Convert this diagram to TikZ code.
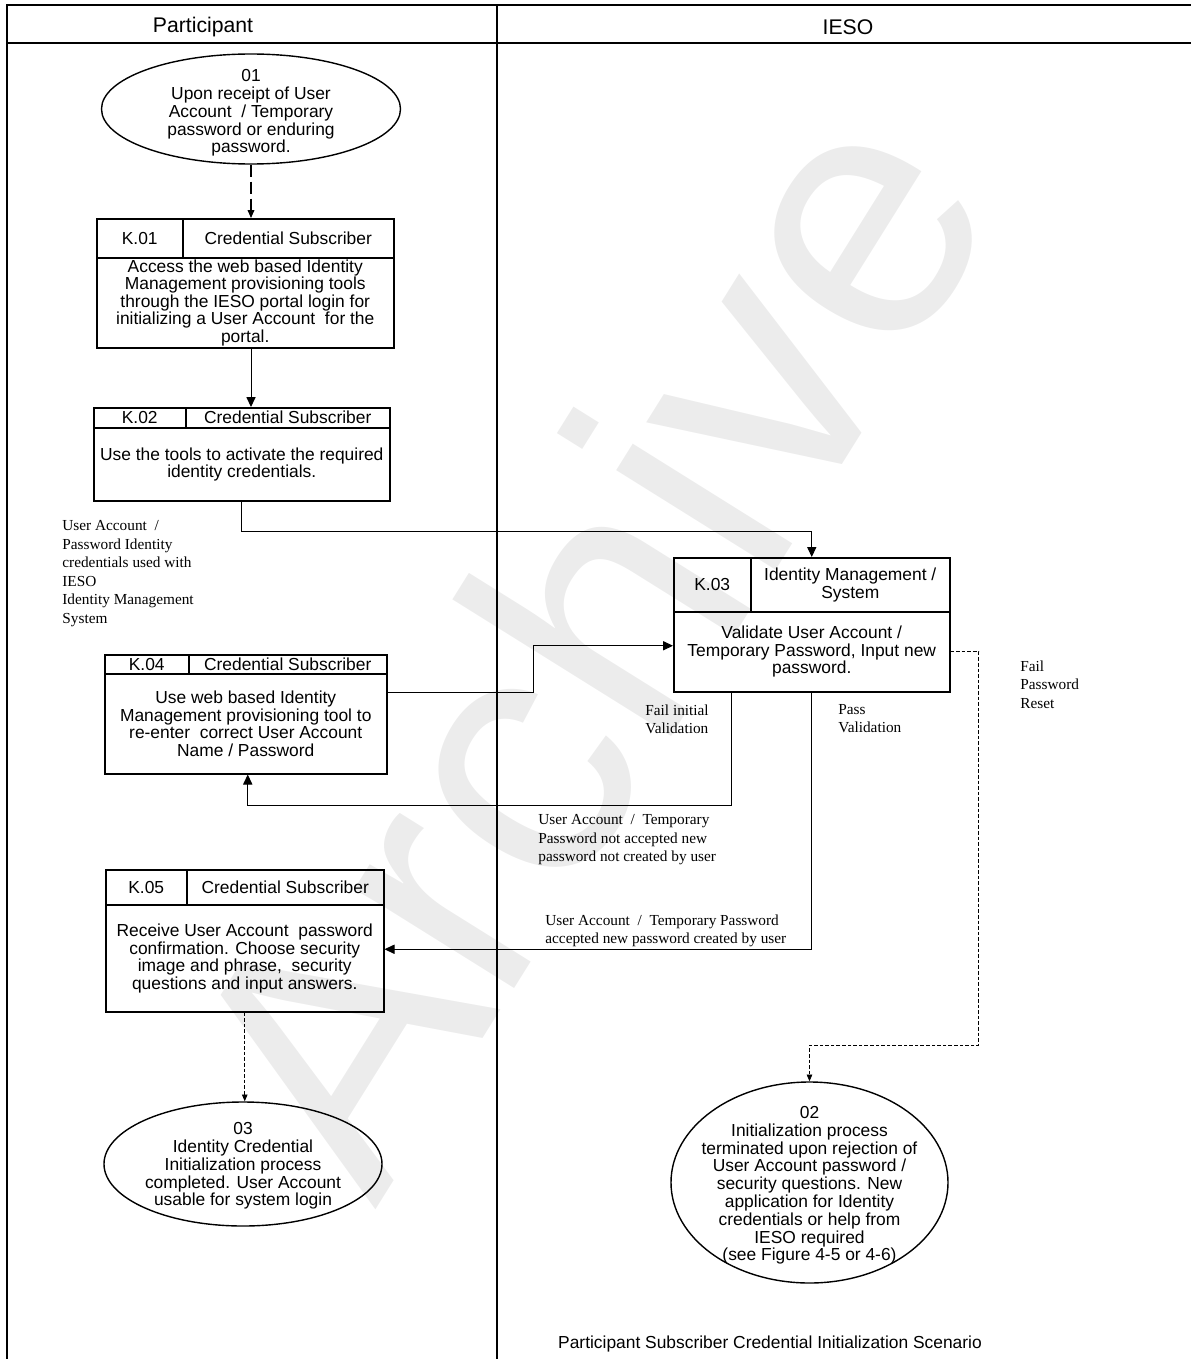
\documentclass[tikz,border=0pt]{standalone}
\usepackage{fontspec}
\setmainfont{Liberation Serif}
\setsansfont{Liberation Sans}
\usetikzlibrary{arrows.meta}
\usetikzlibrary{calc}
\usetikzlibrary{shapes.geometric}
\definecolor{wmgray}{rgb}{0.925, 0.925, 0.925}

\tikzset{
  lane/.style={line width=1.3pt},
  lanetitle/.style={font=\sffamily\fontsize{10.6}{12}\selectfont, inner sep=0pt},
  cell/.style={draw, line width=0.75pt, inner sep=0pt, align=center, anchor=north west,
    font=\sffamily\fontsize{8.7}{8.75}\selectfont},
  cellsize/.style 2 args={minimum width=#1, minimum height=#2},
  startstop/.style={draw, ellipse, line width=0.7pt, inner sep=0pt},
  sttext/.style={align=center, inner sep=0pt, font=\sffamily\fontsize{8.7}{8.9}\selectfont},
  note/.style={anchor=north west, align=left, inner sep=0pt,
    font=\rmfamily\fontsize{7.65}{9.25}\selectfont},
  flow/.style={line width=0.5pt, -{Triangle[length=5pt,width=4.6pt]}},
  dashflow/.style={line width=0.6pt, dash pattern=on 6pt off 2.5pt,
    -{Triangle[length=4pt,width=3.4pt]}},
  finedash/.style={line width=0.4pt, dash pattern=on 1.8pt off 1pt,
    -{Triangle[length=3.4pt,width=2.8pt]}},
  watermark/.style={text=wmgray, inner sep=0pt, font=\sffamily\fontsize{178}{178}\selectfont}
}

\begin{document}
\begin{tikzpicture}[x=0.5pt, y=-0.5pt]
  \useasboundingbox (0,0) rectangle (1191,1359);

  % watermark
  \node[watermark, rotate=58] (wmark) at (582,640) {Archive};

  % swimlanes
  \draw[lane] (6,5) -- (1191,5);
  \draw[lane] (6,43) -- (1191,43);
  \draw[lane] (7,4.4) -- (7,1359);
  \draw[lane] (497,4.4) -- (497,1359);
  \node[lanetitle] (lanepart) at (203,27) {Participant};
  \node[lanetitle] (laneieso) at (848,27) {IESO};

  % start
  \node[startstop, minimum width=149.5pt, minimum height=55pt] (s01) at (251,109) {};
  \node[sttext] (s01txt) at ($(s01.center)+(0,4)$) {01\\Upon receipt of User\\Account~ / Temporary\\password or enduring\\password.};

  % K.01
  \node[cell, cellsize={43pt}{19.5pt}] (k01id) at (96,218) {K.01};
  \node[cell, cellsize={105.5pt}{19.5pt}] (k01role) at (182,218) {Credential Subscriber};
  \node[cell, cellsize={148.5pt}{45pt}] (k01) at (96,257) {Access the web based Identity\\Management provisioning tools\\through the IESO portal login for\\initializing a User Account~ for the\\portal.};

  % K.02
  \node[cell, cellsize={46pt}{10pt}] (k02id) at (93,407) {K.02};
  \node[cell, cellsize={102pt}{10pt}] (k02role) at (185,407) {Credential Subscriber};
  \node[cell, cellsize={148pt}{36.5pt}] (k02) at (93,427) {Use the tools to activate the required\\identity credentials.};

  % K.03
  \node[cell, cellsize={38.5pt}{27pt}] (k03id) at (673,557) {K.03};
  \node[cell, cellsize={99.5pt}{27pt}] (k03role) at (750,557) {Identity Management /\\System};
  \node[cell, cellsize={138pt}{40pt}] (k03) at (673,611) {Validate User Account /\\Temporary Password, Input new\\password.};

  % K.04
  \node[cell, cellsize={42pt}{9.5pt}] (k04id) at (104,654) {K.04};
  \node[cell, cellsize={99pt}{9.5pt}] (k04role) at (188,654) {Credential Subscriber};
  \node[cell, cellsize={141pt}{50pt}] (k04) at (104,673) {Use web based Identity\\Management provisioning tool to\\re-enter~ correct User Account\\Name / Password};

  % K.05
  \node[cell, cellsize={40.5pt}{17.5pt}] (k05id) at (105,869) {K.05};
  \node[cell, cellsize={98.5pt}{17.5pt}] (k05role) at (186,869) {Credential Subscriber};
  \node[cell, cellsize={139pt}{53.5pt}] (k05) at (105,904) {Receive User Account~ password\\confirmation. Choose security\\image and phrase,~ security\\questions and input answers.};

  % ends
  \node[startstop, minimum width=139pt, minimum height=62pt] (s03) at (243,1164) {};
  \node[sttext] (s03txt) at ($(s03.center)+(0,2)$) {03\\Identity Credential\\Initialization process\\completed. User Account\\usable for system login};
  \node[startstop, minimum width=138.5pt, minimum height=100.5pt] (s02) at (809.5,1182.5) {};
  \node[sttext] (s02txt) at ($(s02.center)+(0,3)$) {02\\Initialization process\\terminated upon rejection of\\User Account password /\\security questions. New\\application for Identity\\credentials or help from\\IESO required\\(see Figure 4-5 or 4-6)};

  % labels
  \node[note] (lblcred) at (62,520) {User Account~ /\\Password Identity\\credentials used with\\IESO\\Identity Management\\System};
  \node[note] (lblfail) at (645,704) {Fail initial\\Validation};
  \node[note] (lblpass) at (838,704) {Pass\\Validation};
  \node[note] (lblreset) at (1020,660) {Fail\\Password\\Reset};
  \node[note] (lblrej) at (538,814) {User Account~ /~ Temporary\\Password not accepted new\\password not created by user};
  \node[note] (lblacc) at (545,914) {User Account~ /~ Temporary Password\\accepted new password created by user};

  % connectors
  \draw[dashflow] (s01.south) -- (s01.south |- k01id.north);
  \draw[flow] (s01.south |- k01.south) -- (s01.south |- k02id.north);
  \draw[flow] (k02.south) -- ++(0,30) -| (k03.center |- k03id.north);
  \draw[flow] ($(k04.east)+(0,-31)$) -- ++(146,0) |- ($(k03.west)+(0,-6)$);
  \draw[flow] ($(k03.south)+(-80,0)$) -- ++(0,113) -| ($(k04.south)+(2,0)$);
  \draw[flow] (k03.south) |- ($(k05.east)+(0,-9)$);
  \draw[finedash] (k03.east) -| ($(s02.north)+(169,-36)$) -| (s02.north);
  \draw[finedash] (k05.south) -- (k05.south |- s03.north);

  \node[lanetitle, font=\sffamily\fontsize{8.7}{9}\selectfont] (caption) at (770,1344) {Participant Subscriber Credential Initialization Scenario};
\end{tikzpicture}
\end{document}
